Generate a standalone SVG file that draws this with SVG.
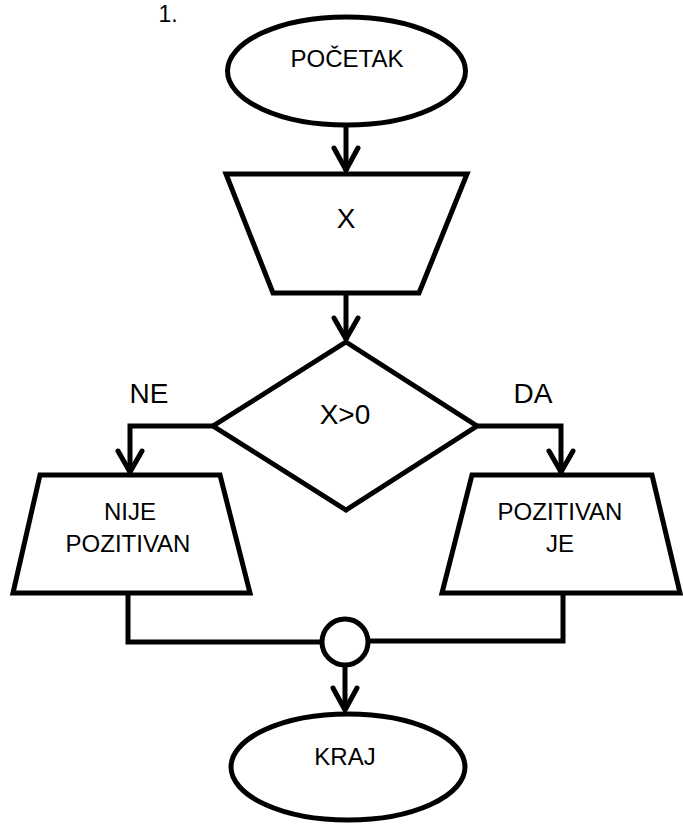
<svg xmlns="http://www.w3.org/2000/svg" width="683" height="825" viewBox="0 0 683 825">
<style>
.s{fill:#fff;stroke:#000;stroke-width:5;stroke-linejoin:miter}
.c{fill:none;stroke:#000;stroke-width:5;stroke-linejoin:miter}
.a{fill:none;stroke:#000;stroke-width:5;stroke-linecap:round;stroke-linejoin:round}
text{font-family:"Liberation Sans",Arial,sans-serif;fill:#000;text-anchor:middle}
.m{font-size:24px}
.l{font-size:28px}
</style>
<rect width="683" height="825" fill="#fff"/>
<text x="168" y="22" style="font-size:23px">1.</text>
<g id="connectors">
  <line class="c" x1="346" y1="127" x2="346" y2="171"/>
  <polyline class="a" points="334,148 346,170 358,148"/>
  <line class="c" x1="346" y1="293" x2="346" y2="340"/>
  <polyline class="a" points="334,318 346,339 358,318"/>
  <polyline class="c" points="213,426 130,426 130,473"/>
  <polyline class="a" points="118,451 130,472 142,451"/>
  <polyline class="c" points="477,426 561,426 561,473"/>
  <polyline class="a" points="549,451 561,472 573,451"/>
  <polyline class="c" points="128,593 128,642 321,642"/>
  <polyline class="c" points="563,593 563,641 369,641"/>
  <line class="c" x1="345" y1="667" x2="345" y2="710"/>
  <polyline class="a" points="333,688 345,710 357,688"/>
</g>
<g id="start">
  <ellipse class="s" cx="346.5" cy="71" rx="119" ry="54"/>
  <text class="m" x="347" y="67">POČETAK</text>
</g>
<g id="input-x">
  <polygon class="s" points="226,174 467,174 419,293 273,293"/>
  <text class="l" x="346" y="228">X</text>
</g>
<g id="decision">
  <polygon class="s" points="346,342 477,426 346,510 213,426"/>
  <text class="l" x="345" y="424">X&gt;0</text>
</g>
<text class="l" x="149" y="403">NE</text>
<text class="l" x="533" y="403">DA</text>
<g id="out-ne">
  <polygon class="s" points="40,475 220,475 250,593 13,593"/>
  <text class="m" x="130" y="520">NIJE</text>
  <text class="m" x="128" y="552">POZITIVAN</text>
</g>
<g id="out-da">
  <polygon class="s" points="472,475 652,475 680,593 442,593"/>
  <text class="m" x="560" y="520">POZITIVAN</text>
  <text class="m" x="560" y="552">JE</text>
</g>
<g id="join">
  <circle class="s" cx="345" cy="642" r="23"/>
</g>
<g id="end">
  <ellipse class="s" cx="348" cy="767" rx="117" ry="53"/>
  <text class="m" x="345" y="765">KRAJ</text>
</g>
</svg>
